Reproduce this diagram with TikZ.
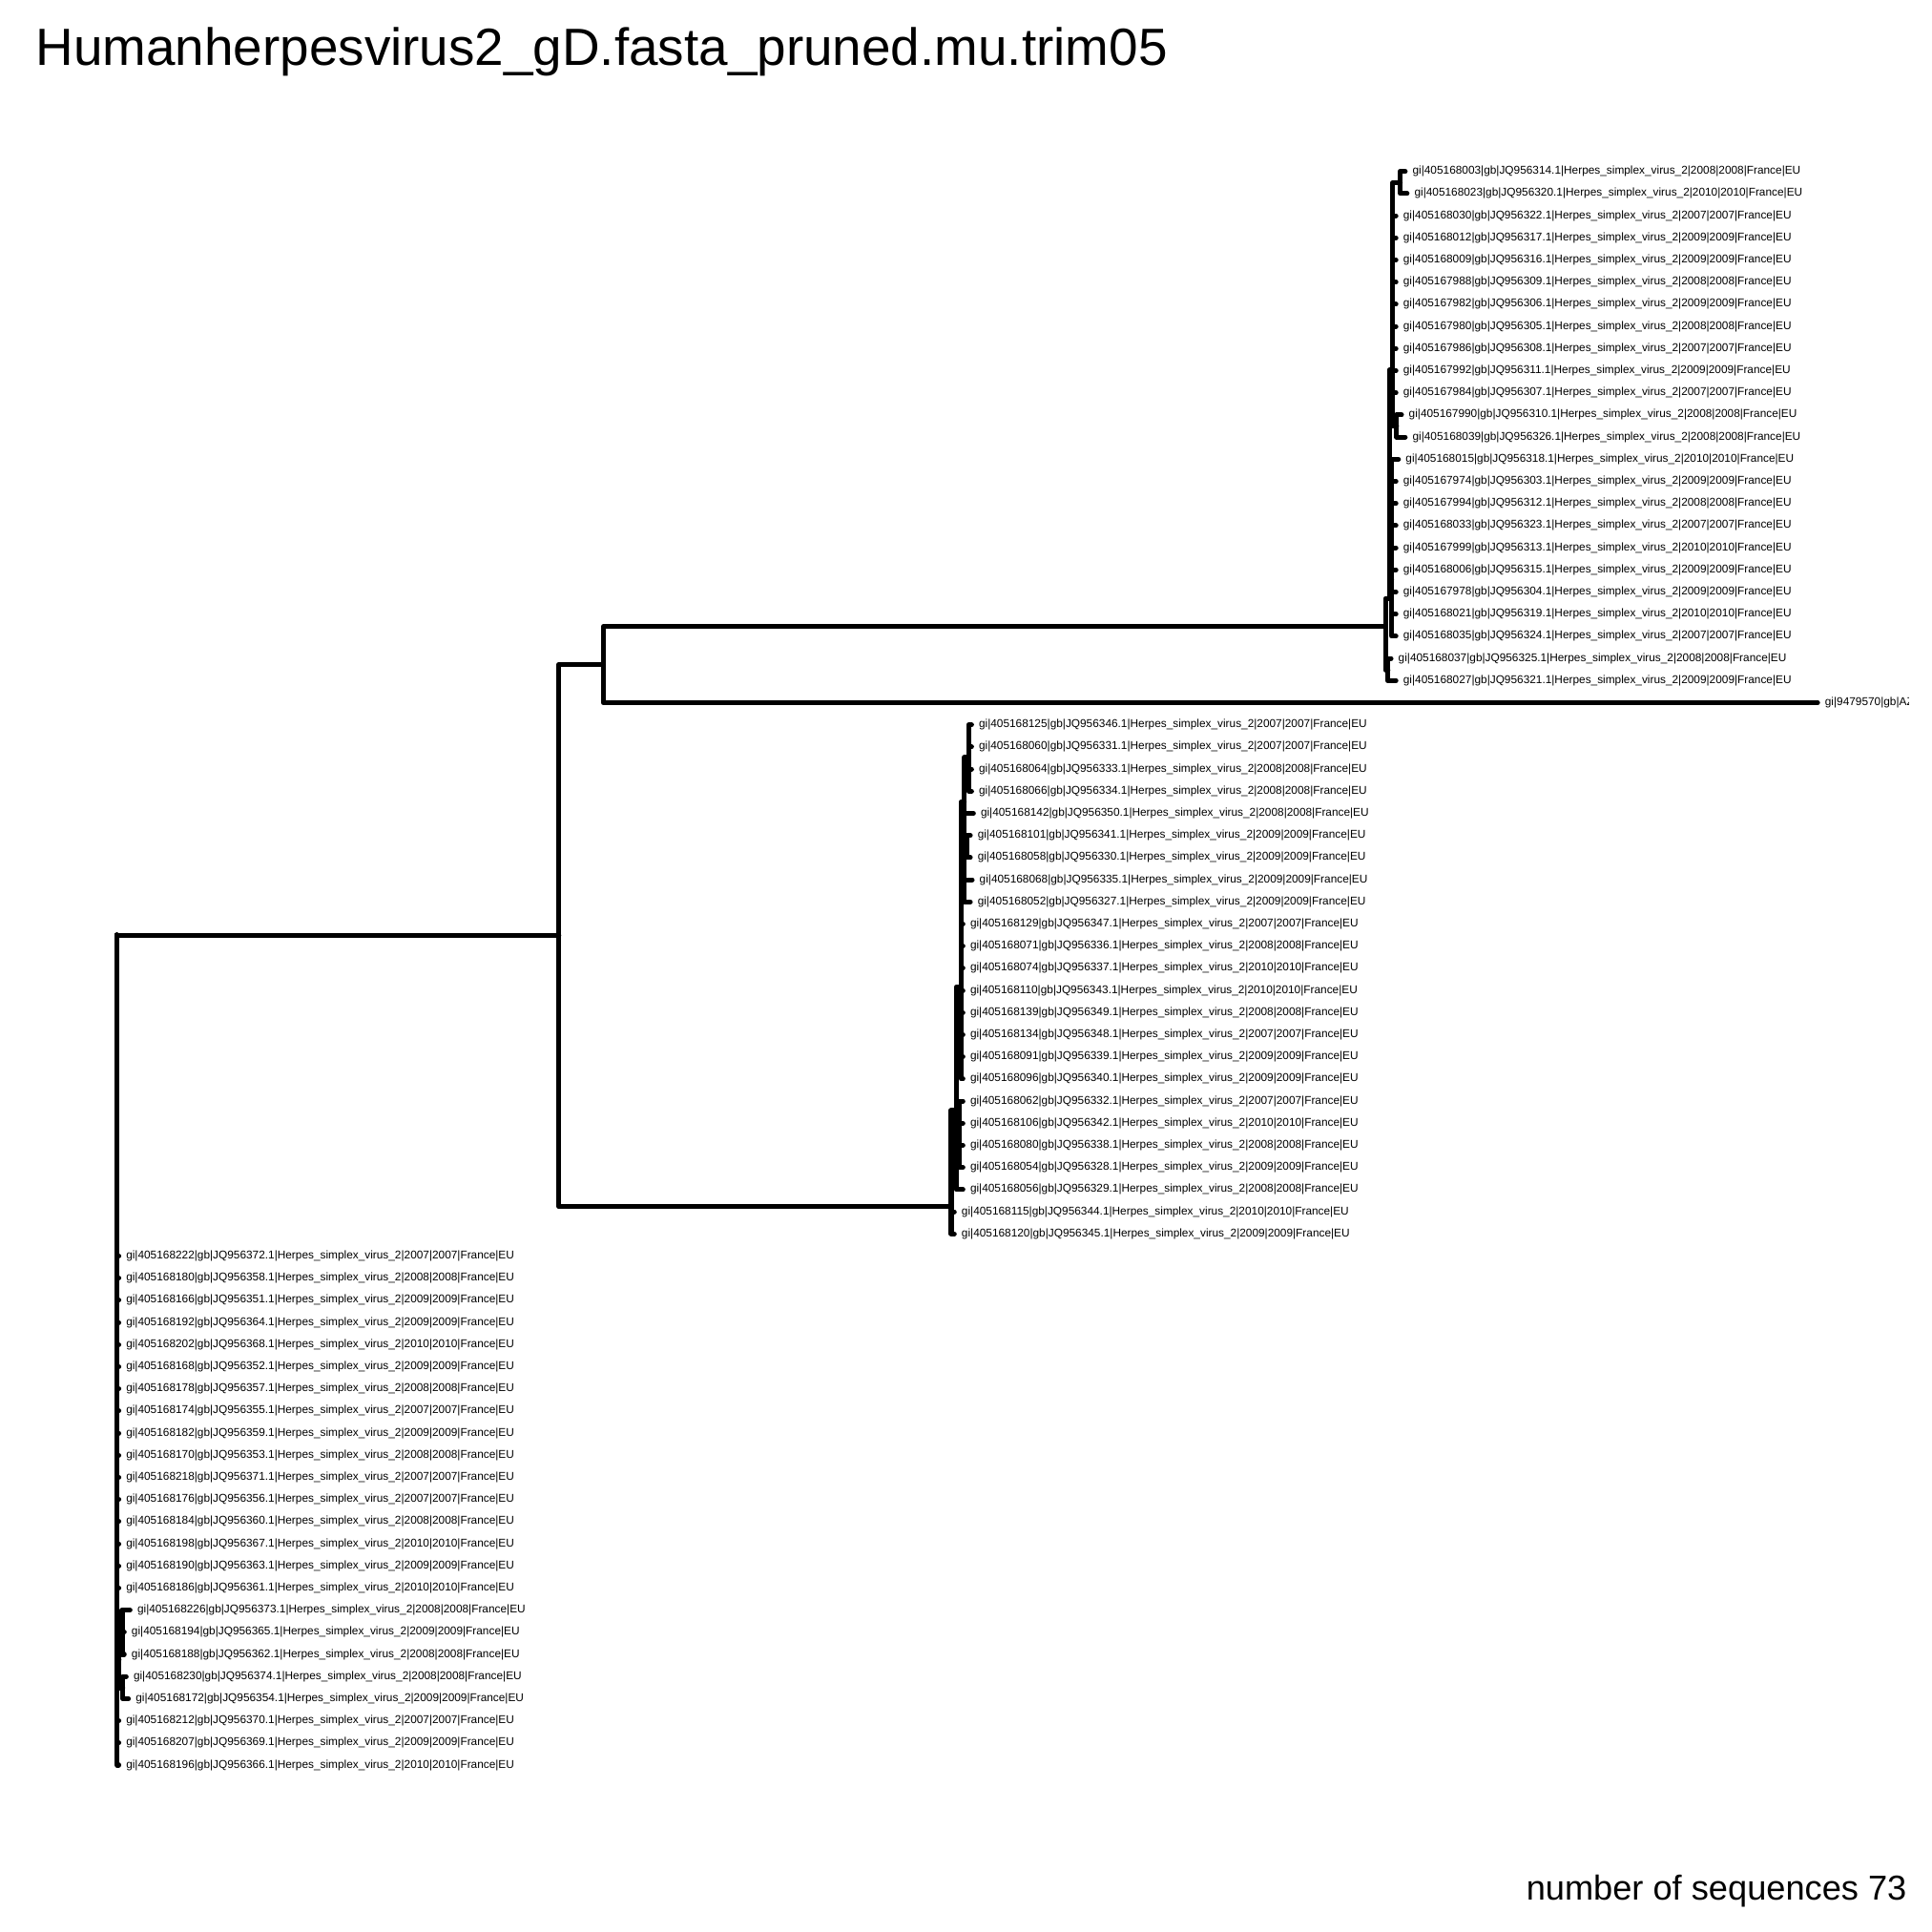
\documentclass[tikz,border=0pt]{standalone}
\usepackage{fontspec}
\setmainfont{Liberation Sans}
\usepackage{pgf,tikz}
\newcommand{\hsvtip}[3]{gi|#1|gb|JQ#2.1|Herpes\_simplex\_virus\_2|#3|#3|France|EU}
\newcommand{\tipfont}{\fontsize{3.37}{4}\selectfont}

\begin{document}
\begin{tikzpicture}[line cap=round,line join=round,x=0.01293cm,y=-0.01293cm,
  branch/.style={line width=1.45pt},
  tiplab/.style={anchor=west,inner sep=0pt,xshift=2pt,font=\tipfont}]
\useasboundingbox (0,0) rectangle (1566,1566);
\node[anchor=base west,inner sep=0pt,font=\fontsize{15.6}{18}\selectfont] (title) at (28.5,53) {Humanherpesvirus2\_gD.fasta\_pruned.mu.trim05};
\node[anchor=base east,inner sep=0pt,font=\fontsize{10.3}{12}\selectfont] (nseq) at (1546,1540) {number of sequences 73};
\begin{scope}
\clip (0,0) rectangle (1547,1566);
% internal nodes
\coordinate (R0) at (95,758);
\coordinate (A1) at (453,758);
\coordinate (A2) at (489,538.8);
\coordinate (N1) at (1123,508);
\coordinate (Na) at (1126,485);
\coordinate (N4) at (1125,543);
\coordinate (N3) at (1128,470);
\coordinate (Nb) at (1129,300);
\coordinate (N5) at (1135,148);
\coordinate (N6) at (1132,345);
\coordinate (Q1) at (771,978);
\coordinate (Qa) at (775,900);
\coordinate (Q2) at (779,800);
\coordinate (Q4) at (777.5,919.4);
\coordinate (Q3) at (781.5,650);
\coordinate (Q5) at (785,614);
\coordinate (Q6) at (783.5,686);
\coordinate (P1) at (96.5,1345);
\coordinate (P2) at (99,1320);
\coordinate (P3) at (99.5,1368);
\foreach \a/\b in {R0/A1,R0/P1,A1/A2,A1/Q1,A2/N1,N1/Na,N1/N4,Na/Nb,Na/N3,Nb/N5,Nb/N6,
  Q1/Qa,Qa/Q2,Qa/Q4,Q2/Q3,Q3/Q5,Q3/Q6,P1/P2,P1/P3}
  \draw[branch] (\a) |- (\b);
% outgroup
\coordinate (t25) at (1473.3,569.6);
\draw[branch] (A2) |- (t25);
\node[tiplab] (l25) at (t25) {gi|9479570|gb|AZ};
% tips
\foreach \n/\up/\tx/\gid/\jq/\yr in {
  1/N5/1139/405168003/956314/2008, 2/N5/1140.5/405168023/956320/2010,
  3/Nb/1131.5/405168030/956322/2007, 4/Nb/1131.5/405168012/956317/2009,
  5/Nb/1131.5/405168009/956316/2009, 6/Nb/1131.5/405167988/956309/2008,
  7/Nb/1131.5/405167982/956306/2009, 8/Nb/1131.5/405167980/956305/2008,
  9/Nb/1131.5/405167986/956308/2007, 10/Nb/1131.5/405167992/956311/2009,
  11/Nb/1131.5/405167984/956307/2007, 12/N6/1136/405167990/956310/2008,
  13/N6/1139/405168039/956326/2008, 14/N3/1133.5/405168015/956318/2010,
  15/N3/1131.5/405167974/956303/2009, 16/N3/1131.5/405167994/956312/2008,
  17/N3/1131.5/405168033/956323/2007, 18/N3/1131.5/405167999/956313/2010,
  19/N3/1131.5/405168006/956315/2009, 20/N3/1131.5/405167978/956304/2009,
  21/N3/1131.5/405168021/956319/2010, 22/N3/1131.5/405168035/956324/2007,
  23/N4/1127.5/405168037/956325/2008, 24/N4/1131.5/405168027/956321/2009,
  26/Q5/787.5/405168125/956346/2007, 27/Q5/787.5/405168060/956331/2007,
  28/Q5/787.5/405168064/956333/2008, 29/Q5/787.5/405168066/956334/2008,
  30/Q3/789/405168142/956350/2008, 31/Q6/786.5/405168101/956341/2009,
  32/Q6/786.5/405168058/956330/2009, 33/Q3/788/405168068/956335/2009,
  34/Q3/786.5/405168052/956327/2009, 35/Q2/780.5/405168129/956347/2007,
  36/Q2/780.5/405168071/956336/2008, 37/Q2/780.5/405168074/956337/2010,
  38/Q2/780.5/405168110/956343/2010, 39/Q2/780.5/405168139/956349/2008,
  40/Q2/780.5/405168134/956348/2007, 41/Q2/780.5/405168091/956339/2009,
  42/Q2/780.5/405168096/956340/2009, 43/Q4/780.5/405168062/956332/2007,
  44/Q4/780.5/405168106/956342/2010, 45/Q4/780.5/405168080/956338/2008,
  46/Q4/780.5/405168054/956328/2009, 47/Qa/780.5/405168056/956329/2008,
  48/Q1/773.5/405168115/956344/2010, 49/Q1/773.5/405168120/956345/2009,
  50/R0/96.3/405168222/956372/2007, 51/R0/96.3/405168180/956358/2008,
  52/R0/96.3/405168166/956351/2009, 53/R0/96.3/405168192/956364/2009,
  54/R0/96.3/405168202/956368/2010, 55/R0/96.3/405168168/956352/2009,
  56/R0/96.3/405168178/956357/2008, 57/R0/96.3/405168174/956355/2007,
  58/R0/96.3/405168182/956359/2009, 59/R0/96.3/405168170/956353/2008,
  60/R0/96.3/405168218/956371/2007, 61/R0/96.3/405168176/956356/2007,
  62/R0/96.3/405168184/956360/2008, 63/R0/96.3/405168198/956367/2010,
  64/R0/96.3/405168190/956363/2009, 65/R0/96.3/405168186/956361/2010,
  66/P2/105.4/405168226/956373/2008, 67/P2/100.7/405168194/956365/2009,
  68/P2/100.7/405168188/956362/2008, 69/P3/102.3/405168230/956374/2008,
  70/P3/104.1/405168172/956354/2009, 71/R0/96.3/405168212/956370/2007,
  72/R0/96.3/405168207/956369/2009, 73/R0/96.3/405168196/956366/2010}{
  \coordinate (t\n) at (\tx,{139+(\n-1)*17.94});
  \draw[branch] (\up) |- (t\n);
  \node[tiplab] (l\n) at (t\n) {\hsvtip{\gid}{\jq}{\yr}};
}
\end{scope}
\end{tikzpicture}
\end{document}
